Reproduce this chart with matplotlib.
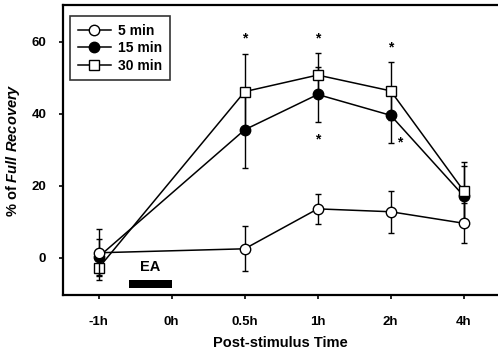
import matplotlib.pyplot as plt
from matplotlib.lines import Line2D

plt.rcParams["font.family"] = ["Liberation Sans", "DejaVu Sans"]
plt.rcParams["font.weight"] = "bold"
plt.rcParams["mathtext.fontset"] = "custom"
plt.rcParams["mathtext.it"] = "Liberation Sans:italic:bold"
plt.rcParams["mathtext.rm"] = "Liberation Sans:bold"

time_labels = ["-1h", "0h", "0.5h", "1h", "2h", "4h"]

# x index into time_labels (no measurement at 0h)
idx = [0, 2, 3, 4, 5]

mean_5 = [1.4, 2.5, 13.6, 12.8, 9.6]
err_5 = [6.6, 6.2, 4.2, 5.8, 5.5]

mean_15 = [0.3, 35.6, 45.4, 39.6, 17.2]
err_15 = [5.0, 10.6, 7.6, 7.8, 8.2]

mean_30 = [-2.8, 46.2, 50.8, 46.4, 18.6]
err_30 = [3.5, 10.4, 6.0, 8.0, 8.0]

star_x = [2, 3, 4, 3, 4.12]
star_y = [61.0, 61.0, 58.5, 33.0, 32.0]

ea_text = "EA"
ea_start, ea_end = 0.42, 1.0

fig = plt.figure(figsize=(4.98, 3.51), dpi=100)
ax = fig.add_axes([0.1265, 0.16, 0.8735, 0.826])

line_kw = dict(color="black", lw=1.1, capsize=2.5, elinewidth=1.0,
               capthick=1.0, markersize=7.5, markeredgewidth=1.0,
               markeredgecolor="black")
ax.errorbar(idx, mean_15, yerr=err_15, fmt="-o", markerfacecolor="black",
            zorder=3, **line_kw)
ax.errorbar(idx, mean_30, yerr=err_30, fmt="-s", markerfacecolor="white",
            zorder=4, **line_kw)
ax.errorbar(idx, mean_5, yerr=err_5, fmt="-o", markerfacecolor="white",
            zorder=5, **line_kw)

for sx, sy in zip(star_x, star_y):
    ax.text(sx, sy, "*", ha="center", va="center", fontsize=10, fontweight="bold")

ax.text((ea_start + ea_end) / 2, -4.6, ea_text, ha="center", va="bottom",
        fontsize=10.5, fontweight="bold")
ax.fill_between([ea_start, ea_end], -6.2, -8.4, color="black", lw=0)

ax.set_xlim(-0.49, 5.47)
ax.set_ylim(-10.3, 70.3)
ax.set_xticks(range(len(time_labels)))
ax.set_xticklabels(time_labels)
ax.set_yticks([0, 20, 40, 60])
ax.tick_params(labelsize=9.5, width=1.2, length=3)
ax.tick_params(axis="x", pad=12)
ax.tick_params(axis="y", pad=9)
for lab in ax.get_xticklabels() + ax.get_yticklabels():
    lab.set_fontweight("bold")
ax.spines["right"].set_visible(False)
for s in ["left", "bottom", "top"]:
    ax.spines[s].set_linewidth(1.6)

ax.set_xlabel("Post-stimulus Time", fontsize=10.5, fontweight="bold", labelpad=6)
ax.set_ylabel(r"% of $\mathit{Full\ Recovery}$", fontsize=10.5,
              fontweight="bold", labelpad=7)

mk = dict(color="black", lw=1.1, markersize=7.5, markeredgecolor="black",
          markeredgewidth=1.0)
handles = [Line2D([], [], marker="o", markerfacecolor="white", **mk),
           Line2D([], [], marker="o", markerfacecolor="black", **mk),
           Line2D([], [], marker="s", markerfacecolor="white", **mk)]
leg = ax.legend(handles, ["5 min", "15 min", "30 min"], loc="upper left",
                bbox_to_anchor=(0.0, 0.985), fontsize=10, frameon=True,
                fancybox=False, edgecolor="black", handlelength=2.4,
                borderpad=0.55, labelspacing=0.25, handletextpad=0.5)
leg.get_frame().set_linewidth(1.2)
for t in leg.get_texts():
    t.set_fontweight("bold")

fig.savefig("out.png", dpi=100)
